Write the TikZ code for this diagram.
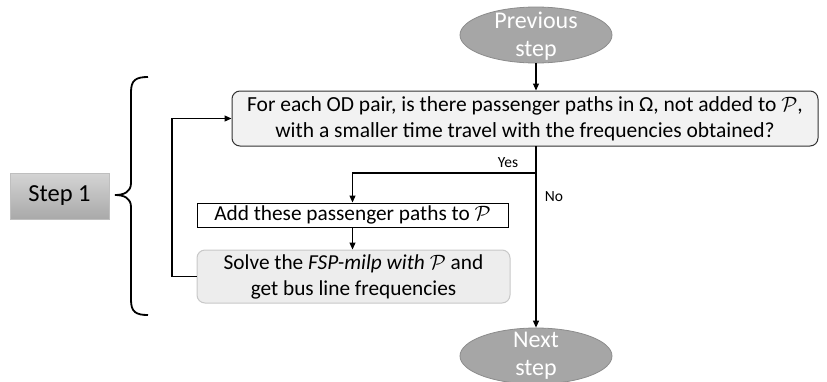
\documentclass[tikz,border=0pt]{standalone}
\usepackage{fontspec}
\setmainfont{Carlito}
\usetikzlibrary{arrows.meta,shapes.geometric,calc}
\definecolor{ellfill}{HTML}{A6A6A6}
\definecolor{ellline}{HTML}{8C8C8C}
\definecolor{mainfill}{HTML}{F2F2F2}
\definecolor{solvefill}{HTML}{EDEDED}
\definecolor{solveline}{HTML}{C8C8C8}
\definecolor{stepA}{HTML}{D4D4D4}
\definecolor{stepB}{HTML}{A9A9A9}
\begin{document}
\begin{tikzpicture}[x=1pt,y=-1pt,
  conn/.style={line width=1.1pt,-{Triangle[length=7pt,width=6pt]}},
  ell/.style={ellipse,draw=ellline,fill=ellfill,line width=0.8pt,minimum width=152pt,minimum height=56pt,inner sep=0pt},
  elltext/.style={text=white,font=\fontsize{24}{28}\selectfont,align=center,inner sep=0pt},
  mainbox/.style={draw=black!80,fill=mainfill,rounded corners=8pt,line width=1pt,minimum width=586pt,minimum height=55pt,inner sep=0pt,align=center,font=\fontsize{21.5}{26}\selectfont},
  addbox/.style={draw=black,fill=white,line width=1pt,minimum width=311pt,minimum height=24pt,inner sep=0pt,font=\fontsize{21.3}{24}\selectfont},
  solvebox/.style={draw=solveline,fill=solvefill,rounded corners=8pt,line width=1pt,minimum width=313pt,minimum height=53pt,inner sep=0pt,align=center,font=\fontsize{21.3}{26}\selectfont},
  stepbox/.style={draw=black!25,top color=stepA,bottom color=stepB,line width=0.8pt,minimum width=99pt,minimum height=46pt,inner sep=0pt,font=\fontsize{24.5}{26}\selectfont},
  lbl/.style={font=\fontsize{15.5}{17}\selectfont,inner sep=0pt}
]
\useasboundingbox (0,0) rectangle (827,381);
% nodes
\node[ell] (prev) at (536,35) {};
\node[elltext] (prevtxt) at (536,36) {Previous\\step};
\node[mainbox] (main) at (525,118.5) {For each OD pair, is there passenger paths in Ω, not added to $\mathcal{P}$,\\with a smaller time travel with the frequencies obtained?};
\node[addbox] (add) at (352.5,215) {Add these passenger paths to $\mathcal{P}$};
\node[solvebox] (solve) at (353.5,276.5) {Solve the \textit{FSP-milp with} $\mathcal{P}$ and\\get bus line frequencies};
\node[ell] (next) at (536,356) {};
\node[elltext] (nexttxt) at (536,356) {Next\\step};
\node[stepbox] (step) at (59.5,196) {Step 1};
\node[lbl] (yes) at (508,163) {Yes};
\node[lbl] (no) at (554,197) {No};
% connectors
\coordinate (split) at (536,173);
\coordinate (mainbot) at (536,146);
\coordinate (back) at (172,276.5);
\draw[conn] (prev.south) -- (prev.south |- main.north);
\draw[conn] (mainbot) -- (next.north);
\draw[conn] (split) -| (add.north);
\draw[conn] (add.south) -- (add.south |- solve.north);
\draw[conn] (solve.west) -- (back) |- (main.west);
% brace
\draw[line width=1.8pt] (148,77) .. controls (136,77) and (131,80) .. (131,92) -- (131,183)
  .. controls (131,192) and (124,195) .. (115,195)
  .. controls (124,195) and (131,198) .. (131,207) -- (131,300)
  .. controls (131,312) and (136,315) .. (148,315);
\end{tikzpicture}
\end{document}
